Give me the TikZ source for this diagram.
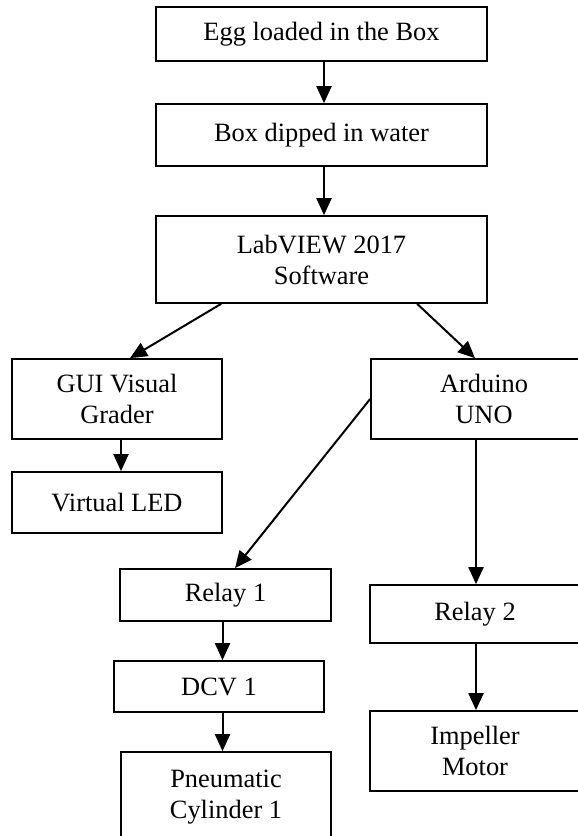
\documentclass[tikz,border=0pt]{standalone}
\usepackage{fontspec}
\setmainfont{Liberation Serif}
\usetikzlibrary{arrows.meta,calc}
\begin{document}
\begin{tikzpicture}[x=1pt,y=-1pt,
  box/.style={draw,line width=1.7pt,inner sep=0pt,align=center,
    font=\fontsize{26.4}{31}\selectfont},
  conn/.style={line width=2pt,-{Triangle[length=17pt,width=15pt]}}]
\useasboundingbox (0,0) rectangle (578,836);
\clip (0,0) rectangle (578,836);
\node[box,minimum width=331pt,minimum height=54pt] (egg) at (321.5,34) {Egg loaded in the Box};
\node[box,minimum width=331pt,minimum height=62pt] (boxw) at (321.5,135) {Box dipped in water};
\node[box,minimum width=331pt,minimum height=87pt] (lab) at (321.5,259.5) {LabVIEW 2017\\Software};
\node[box,minimum width=210pt,minimum height=80pt] (gui) at (117,399) {GUI Visual\\Grader};
\node[box,minimum width=226pt,minimum height=80pt] (ard) at (484,399) {Arduino\\UNO};
\node[box,minimum width=210pt,minimum height=61pt] (vled) at (117,502.5) {Virtual LED};
\node[box,minimum width=211pt,minimum height=52pt] (r1) at (225.5,595) {Relay 1};
\node[box,minimum width=210pt,minimum height=51pt] (dcv) at (219,686.5) {DCV 1};
\node[box,minimum width=210pt,minimum height=90pt] (pneu) at (226,797) {Pneumatic\\Cylinder 1};
\node[box,minimum width=210pt,minimum height=58pt] (r2) at (475,614) {Relay 2};
\node[box,minimum width=210pt,minimum height=80pt] (imp) at (475,751) {Impeller\\Motor};
\coordinate (xtop) at (324,0);
\coordinate (xgui) at (121,0);
\coordinate (xleft) at (222.5,0);
\coordinate (xright) at (476,0);
\draw[conn] (egg.south -| xtop) -- (boxw.north -| xtop);
\draw[conn] (boxw.south -| xtop) -- (lab.north -| xtop);
\draw[conn] ($(lab.south west)+(66,0)$) -- ($(gui.north)+(13,0)$);
\draw[conn] ($(lab.south west)+(262,0)$) -- ($(ard.north)+(-9,0)$);
\draw[conn] (gui.south -| xgui) -- (vled.north -| xgui);
\draw[conn] (ard.west) -- ($(r1.north)+(9.5,0)$);
\draw[conn] (ard.south -| xright) -- (r2.north -| xright);
\draw[conn] (r1.south -| xleft) -- (dcv.north -| xleft);
\draw[conn] (dcv.south -| xleft) -- (pneu.north -| xleft);
\draw[conn] (r2.south -| xright) -- (imp.north -| xright);
\end{tikzpicture}
\end{document}
